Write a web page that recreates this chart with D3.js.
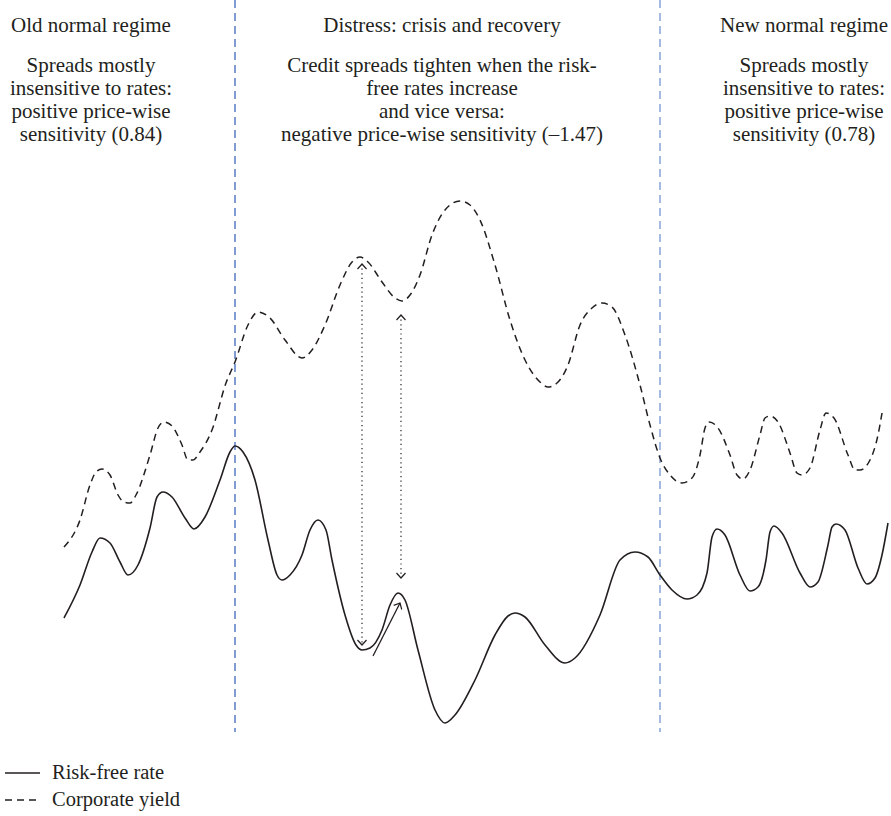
<!DOCTYPE html>
<html>
<head>
<meta charset="utf-8">
<script src="https://cdn.jsdelivr.net/npm/d3@7"></script>
<style>
  html, body { margin: 0; padding: 0; background: #fff; }
</style>
</head>
<body>
<svg id="chart" width="891" height="816"></svg>
<script>
// ---- data (time index, level in arbitrary units) ----
const riskFreeT = [4,20,32,40,50,60,68,78,90,97,103,112,125,134,145,160,170,175,183,195,208,217,222,230,242,250,258,266,272,285,296,302,310,322,330,338,345,358,375,385,395,415,435,448,455,465,485,505,515,540,560,575,588,600,612,627,637,647,652,657,665,680,690,698,706,710,714,722,740,750,758,768,772,776,785,798,807,815,822,828];
const riskFreeV = [122,155,188,202,197,178,165,175,212,243,248,243,222,211,223,260,288,294,288,260,200,165,160,165,185,210,220,210,180,125,95,90,92,110,135,147,140,90,30,17,25,60,105,124,127,123,95,77,82,125,180,188,183,165,150,141,145,167,203,211,205,165,149,153,180,208,214,207,167,153,158,195,213,216,210,172,156,162,185,217];

const corpT = [4,20,30,36,42,50,58,64,70,76,90,98,104,112,122,128,133,140,152,166,175,188,198,210,225,242,252,265,280,292,300,308,322,335,342,350,360,372,385,400,410,420,435,450,465,480,488,497,508,520,532,542,552,565,580,590,600,610,622,632,640,645,649,658,670,677,683,690,700,705,710,718,730,737,742,750,760,766,774,788,795,800,810,818,822];
const corpV = [193,220,255,268,271,265,245,238,237,245,285,312,318,314,295,280,280,288,310,357,378,415,428,422,400,382,390,415,455,478,483,478,458,442,439,445,465,505,530,539,535,520,475,420,380,358,353,357,375,415,432,437,433,405,355,315,282,265,257,262,285,312,318,312,285,265,261,270,305,322,324,318,287,267,265,272,310,327,322,285,270,270,280,305,327];

// regime boundaries (time index)
const boundaries = [175, 600];
const boundaryColors = ["#4a72c0", "#7f9ed6"];

// double-headed dotted arrows: [time, fromLevel, toLevel]
const dottedArrows = [[302, 476, 95], [341, 425, 162]];
// solid arrow along the rebound: [t0, v0, t1, v1]
const solidArrow = [313, 84, 340, 137];

const regimeTitles = ["Old normal regime", "Distress: crisis and recovery", "New normal regime"];
const regimeTexts = [
  ["Spreads mostly", "insensitive to rates:", "positive price-wise", "sensitivity (0.84)"],
  ["Credit spreads tighten when the risk-", "free rates increase", "and vice versa:", "negative price-wise sensitivity (\u20131.47)"],
  ["Spreads mostly", "insensitive to rates:", "positive price-wise", "sensitivity (0.78)"]
];
const legendLabels = ["Risk-free rate", "Corporate yield"];

const FONT = "'Liberation Serif', 'Times New Roman', serif";
const INK = "#231f20";

// ---- scales ----
const svg = d3.select("#chart");
const x = d3.scaleLinear().domain([0, 830]).range([60, 890]);
const y = d3.scaleLinear().domain([0, 560]).range([740, 180]);

const line = d3.line().x(d => x(d[0])).y(d => y(d[1])).curve(d3.curveMonotoneX);

// markers
const defs = svg.append("defs");
defs.append("marker").attr("id", "chev").attr("viewBox", "-6 -6 12 12")
  .attr("refX", 0).attr("refY", 0).attr("markerWidth", 12).attr("markerHeight", 12)
  .attr("markerUnits", "userSpaceOnUse").attr("orient", "auto-start-reverse")
  .append("path").attr("d", "M-5,-4.5 L0,0 L-5,4.5").attr("fill", "none")
  .attr("stroke", INK).attr("stroke-width", 1.2);

// vertical boundaries
svg.selectAll("line.bound").data(boundaries).join("line")
  .attr("class", "bound")
  .attr("x1", d => x(d)).attr("x2", d => x(d))
  .attr("y1", 0).attr("y2", 732)
  .attr("stroke", (d, i) => boundaryColors[i])
  .attr("stroke-width", 1.4)
  .attr("stroke-dasharray", "8,5");

// series
svg.append("path").datum(d3.zip(riskFreeT, riskFreeV))
  .attr("d", line).attr("fill", "none").attr("stroke", INK).attr("stroke-width", 1.6);
svg.append("path").datum(d3.zip(corpT, corpV))
  .attr("d", line).attr("fill", "none").attr("stroke", INK).attr("stroke-width", 1.5)
  .attr("stroke-dasharray", "7,5");

// dotted arrows
svg.selectAll("line.dot").data(dottedArrows).join("line")
  .attr("class", "dot")
  .attr("x1", d => x(d[0])).attr("x2", d => x(d[0]))
  .attr("y1", d => y(d[1])).attr("y2", d => y(d[2]))
  .attr("stroke", INK).attr("stroke-width", 1.2)
  .attr("stroke-dasharray", "1.2,3.4")
  .attr("marker-start", "url(#chev)").attr("marker-end", "url(#chev)");

svg.append("line")
  .attr("x1", x(solidArrow[0])).attr("y1", y(solidArrow[1]))
  .attr("x2", x(solidArrow[2])).attr("y2", y(solidArrow[3]))
  .attr("stroke", INK).attr("stroke-width", 1.3)
  .attr("marker-end", "url(#chev)");

// regime texts
const textX = [91, 442, 804];
const fs = 21;
regimeTitles.forEach((t, i) => {
  svg.append("text").attr("x", textX[i]).attr("y", 32).attr("text-anchor", "middle")
    .attr("font-family", FONT).attr("fill", INK)
    .attr("font-size", fs).text(t);
  regimeTexts[i].forEach((s, j) => {
    svg.append("text").attr("x", textX[i]).attr("y", 72 + j * 23).attr("text-anchor", "middle")
      .attr("font-family", FONT).attr("fill", INK)
      .attr("font-size", fs).text(s);
  });
});

// legend
const lg = svg.append("g");
legendLabels.forEach((lab, i) => {
  const ly = 773 + i * 27;
  lg.append("line").attr("x1", 5).attr("x2", 40).attr("y1", ly).attr("y2", ly)
    .attr("stroke", INK).attr("stroke-width", 1.4)
    .attr("stroke-dasharray", i === 1 ? "7,5" : null);
  lg.append("text").attr("x", 52).attr("y", ly + 6).attr("font-size", 20.5)
    .attr("font-family", FONT).attr("fill", INK).text(lab);
});
</script>
</body>
</html>
